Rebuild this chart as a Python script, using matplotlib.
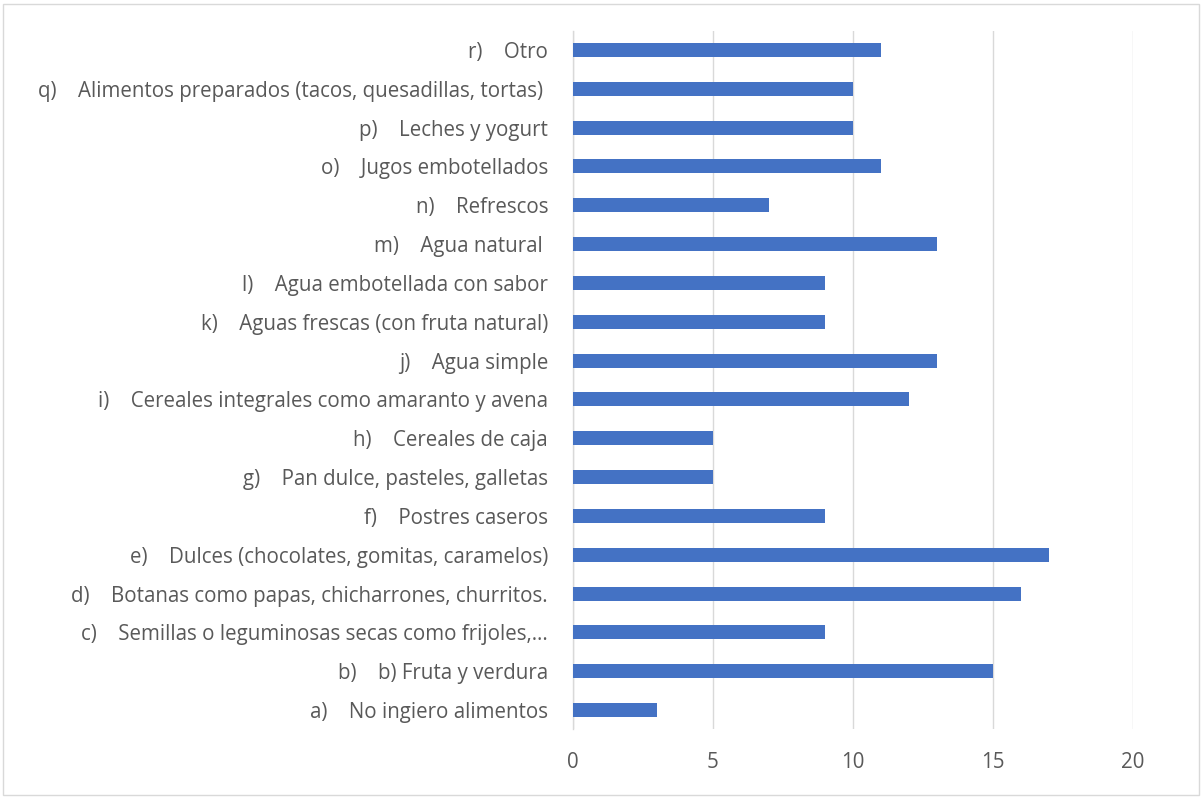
import matplotlib
matplotlib.use("Agg")
import matplotlib.pyplot as plt
from matplotlib.patches import Rectangle

prefixes = ["a)", "b)", "c)", "d)", "e)", "f)", "g)", "h)", "i)",
            "j)", "k)", "l)", "m)", "n)", "o)", "p)", "q)", "r)"]
categories = ["No ingiero alimentos", "b) Fruta y verdura",
              "Semillas o leguminosas secas como frijoles,…",
              "Botanas como papas, chicharrones, churritos.",
              "Dulces (chocolates, gomitas, caramelos)",
              "Postres caseros", "Pan dulce, pasteles, galletas",
              "Cereales de caja", "Cereales integrales como amaranto y avena",
              "Agua simple", "Aguas frescas (con fruta natural)",
              "Agua embotellada con sabor", "Agua natural ",
              "Refrescos", "Jugos embotellados", "Leches y yogurt",
              "Alimentos preparados (tacos, quesadillas, tortas) ", "Otro"]
values = [3, 15, 9, 16, 17, 9, 5, 5, 12, 13, 9, 9, 13, 7, 11, 10, 10, 11]
xticks = [0, 5, 10, 15, 20]

plt.rcParams['font.family'] = ['Open Sans', 'DejaVu Sans']

W, H = 1204, 798
fig = plt.figure(figsize=(W / 100, H / 100), dpi=100)
ax = fig.add_axes([573 / W, 1 - 729.4 / H, (1133 - 573) / W, (729.4 - 30.6) / H])

labels = [f"{p}    {c}" for p, c in zip(prefixes, categories)]
pos = list(range(len(values)))
ax.barh(pos, values, height=0.36, color="#4472C4", zorder=3)
ax.set_ylim(-0.5, len(values) - 0.5)
ax.set_xlim(0, 20)
ax.set_xticks(xticks)
ax.set_yticks(pos)
ax.set_yticklabels(labels)
ax.tick_params(axis="y", length=0, pad=18, labelsize=14.8, labelcolor="#595959")
ax.tick_params(axis="x", length=0, pad=16, labelsize=14.8, labelcolor="#595959")
ax.grid(axis="x", color="#D9D9D9", linewidth=1, zorder=0)
for s in ["top", "right", "bottom"]:
    ax.spines[s].set_visible(False)
ax.spines["left"].set_color("#D9D9D9")
ax.spines["left"].set_linewidth(1)

fig.patches.append(Rectangle((3 / W, 3 / H), (W - 8) / W, (H - 7) / H,
                             transform=fig.transFigure, fill=False,
                             edgecolor="#D9D9D9", linewidth=1))

fig.savefig("out.png", dpi=100)
